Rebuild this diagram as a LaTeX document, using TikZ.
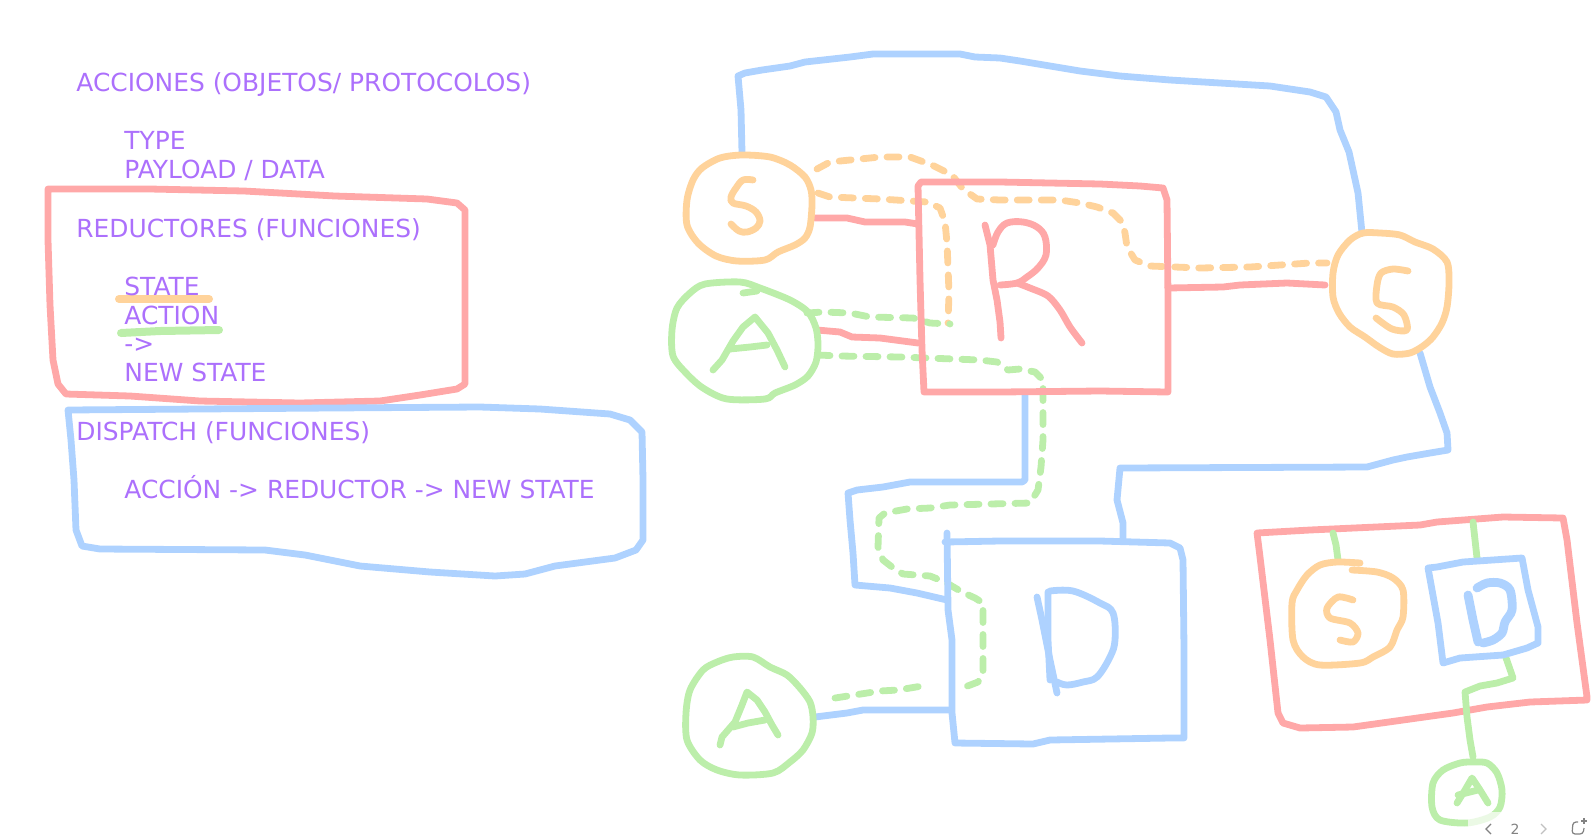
\documentclass[tikz,border=0pt]{standalone}
\usepackage{fontspec}
\setmainfont{DejaVu Sans}
\definecolor{txt}{RGB}{172,112,252}
\definecolor{pred}{RGB}{255,168,168}
\definecolor{pblue}{RGB}{174,210,255}
\definecolor{porange}{RGB}{255,211,155}
\definecolor{pgreen}{RGB}{188,238,170}
\definecolor{navgray}{RGB}{130,130,130}
\tikzset{
  pen/.style={line width=3.4pt, line cap=round, line join=round},
  redpen/.style={pen, draw=pred},
  bluepen/.style={pen, draw=pblue},
  orangepen/.style={pen, draw=porange},
  greenpen/.style={pen, draw=pgreen},
  dashy/.style={dash pattern=on 6pt off 6pt},
  hilite/.style={line width=4pt, line cap=round},
  lbl/.style={anchor=base west, inner sep=0pt, text=txt, font=\fontsize{12.45}{14}\selectfont},
}
\begin{document}
\begin{tikzpicture}[x=0.5pt,y=-0.5pt]
\useasboundingbox (0,0) rectangle (1593,836);

% ---------- left text ----------
\draw[hilite, draw=porange] (119,299) -- (209,299);
\draw[hilite, draw=pgreen] (121,333) -- (160,331) -- (219,330);

\node[lbl] (t1) at (76,91) {ACCIONES (OBJETOS/ PROTOCOLOS)};
\node[lbl] (t2) at (124,149) {TYPE};
\node[lbl] (t3) at (124,178) {PAYLOAD / DATA};
\node[lbl] (t4) at (76,237) {REDUCTORES (FUNCIONES)};
\node[lbl] (t5) at (124,295) {STATE};
\node[lbl] (t6) at (124,324) {ACTION};
\node[lbl] (t7) at (124,352) {->};
\node[lbl] (t8) at (124,381) {NEW STATE};
\node[lbl] (t9) at (76,440) {DISPATCH (FUNCIONES)};
\node[lbl] (t10) at (124,498) {ACCIÓN -> REDUCTOR -> NEW STATE};

% red box around reductores
\draw[redpen] (48,189) -- (150,189) -- (244,191) -- (335,196) -- (427,199) -- (457,203) -- (465,210)
  -- (465,300) -- (465,384) -- (457,389) -- (420,395) -- (380,401) -- (300,403) -- (200,401)
  -- (130,396) -- (66,394) -- (58,384) -- (53,360) -- (50,305) -- (48,240) -- cycle;
% blue box around dispatch
\draw[bluepen] (68,410) -- (200,409) -- (330,408) -- (480,407) -- (540,409) -- (610,414) -- (630,420)
  -- (642,432) -- (643,480) -- (643,540) -- (636,550) -- (615,558) -- (600,560) -- (555,566)
  -- (525,574) -- (495,576) -- (430,572) -- (360,566) -- (305,555) -- (265,550) -- (100,549)
  -- (82,546) -- (76,530) -- (74,480) -- (71,440) -- cycle;

% ---------- connectors ----------
% blue S1 -> S2 over the top
\draw[bluepen] (742,153) -- (741,110) -- (738,76) -- (745,73) -- (762,70) -- (790,66) -- (805,62)
  -- (850,57) -- (873,54) -- (960,54) -- (975,57) -- (1000,58) -- (1020,61) -- (1050,66) -- (1080,71)
  -- (1120,76) -- (1170,80) -- (1270,86) -- (1310,92) -- (1326,97) -- (1336,112) -- (1340,130)
  -- (1349,152) -- (1358,193) -- (1362,233);
% red S1 -> R, A1 -> R, S2 -> R
\draw[redpen] (815,218) -- (847,218) -- (865,222) -- (905,222) -- (918,224);
\draw[redpen] (817,330) -- (840,332) -- (852,337) -- (880,338) -- (918,343);
\draw[redpen] (1325,285) -- (1287,283) -- (1240,285) -- (1223,287) -- (1168,288);
% orange dashed S1 -> R
\draw[orangepen, dashy] (818,193) -- (830,197) -- (880,199) -- (927,202) -- (940,208) -- (945,222)
  -- (947,243) -- (948,267) -- (949,293) -- (948,323);
% orange dashed S1 -> S2 over R
\draw[orangepen, dashy] (817,169) -- (830,162) -- (880,157) -- (910,157) -- (932,165) -- (952,175)
  -- (963,189) -- (977,199) -- (1000,200) -- (1060,200) -- (1080,203) -- (1097,207) -- (1113,213)
  -- (1122,222) -- (1125,233) -- (1127,247) -- (1135,260) -- (1150,266) -- (1200,268) -- (1250,267)
  -- (1280,265) -- (1310,263) -- (1327,263);
% green dashed A1 -> R
\draw[greenpen, dashy] (807,313) -- (823,312) -- (850,313) -- (870,317) -- (913,318) -- (930,323) -- (950,324);
% green dashed A1 -> D
\draw[greenpen, dashy] (818,355) -- (840,356) -- (900,357) -- (980,360) -- (997,362) -- (1008,370)
  -- (1020,369) -- (1035,372) -- (1043,380) -- (1043,440) -- (1041,467) -- (1038,490) -- (1030,503)
  -- (990,504) -- (950,505) -- (930,508) -- (907,509) -- (885,513) -- (879,518) -- (878,547)
  -- (883,560) -- (892,567) -- (903,574) -- (930,576) -- (945,582) -- (962,592) -- (975,598)
  -- (983,603) -- (983,650) -- (983,673) -- (978,682) -- (965,687);
% green dashed A2 -> D
\draw[greenpen, dashy] (835,698) -- (880,691) -- (898,690) -- (922,686);
% blue R -> D
\draw[bluepen] (1025,395) -- (1025,480) -- (1022,482) -- (983,482) -- (910,482) -- (883,487)
  -- (857,490) -- (848,493) -- (850,520) -- (853,553) -- (855,585) -- (890,588) -- (917,593) -- (947,600);
% blue S2 -> D
\draw[bluepen] (1420,353) -- (1430,387) -- (1440,413) -- (1447,433) -- (1448,450) -- (1430,453)
  -- (1407,457) -- (1393,460) -- (1367,467) -- (1120,468) -- (1117,500) -- (1123,523) -- (1123,540);
% blue A2 -> D
\draw[bluepen] (815,717) -- (847,713) -- (863,710) -- (903,710) -- (950,710);

% ---------- S1 ----------
\draw[orangepen] plot[smooth cycle, tension=0.5] coordinates {(742,155) (770,157) (790,165) (805,177)
  (811,190) (812,205) (810,227) (805,238) (795,245) (778,252) (765,260) (737,261) (716,256) (698,243)
  (687,225) (687,200) (693,180) (702,168) (720,158)};
\draw[orangepen] plot[smooth, tension=0.6] coordinates {(753,180) (743,180) (736,188) (731,197) (733,203)
  (746,206) (756,212) (760,221) (756,228) (747,232) (739,231) (731,224)};
% ---------- A1 ----------
\draw[greenpen] plot[smooth cycle, tension=0.5] coordinates {(705,284) (740,282) (760,288) (790,300)
  (808,312) (816,328) (818,345) (816,362) (808,376) (795,385) (775,393) (765,399) (727,399) (703,388)
  (686,373) (673,356) (672,330) (677,308) (690,293)};
\draw[greenpen] (743,293) -- (757,291);
\draw[greenpen] (713,370) -- (722,360) -- (733,341) -- (743,327) -- (755,317) -- (768,333) -- (777,350) -- (785,367);
\draw[greenpen] (730,349) -- (750,347) -- (767,345);
% ---------- R ----------
\draw[redpen] (918,186) -- (920,280) -- (922,350) -- (924,392) -- (1000,392) -- (1100,391) -- (1168,392)
  -- (1168,300) -- (1167,200) -- (1163,188) -- (1140,186) -- (1100,184) -- (1000,182) -- (921,182) -- (918,186);
\draw[redpen] (985,225) -- (990,245) -- (993,280) -- (997,300) -- (1000,322) -- (1001,338);
\draw[redpen] plot[smooth, tension=0.6] coordinates {(993,245) (998,232) (1007,223) (1023,222) (1037,227)
  (1045,237) (1046,255) (1038,268) (1027,277) (1017,283) (1000,285)};
\draw[redpen] plot[smooth, tension=0.5] coordinates {(1017,283) (1030,288) (1048,296) (1060,310) (1070,327) (1082,343)};
% ---------- S2 ----------
\draw[orangepen] plot[smooth cycle, tension=0.5] coordinates {(1363,233) (1380,233) (1400,235) (1415,242)
  (1433,249) (1447,262) (1449,283) (1447,307) (1442,323) (1433,337) (1423,346) (1410,353) (1393,354)
  (1379,347) (1365,337) (1350,327) (1339,313) (1333,297) (1333,273) (1338,255) (1350,240)};
\draw[orangepen] plot[smooth, tension=0.5] coordinates {(1408,271) (1393,269) (1381,273) (1377,285)
  (1377,303) (1393,307) (1404,315) (1407,330) (1392,329) (1376,318)};
% ---------- D ----------
\draw[bluepen] (947,533) -- (948,610) -- (952,640) -- (952,713) -- (955,743) -- (1033,744) -- (1050,740)
  -- (1170,738) -- (1184,738) -- (1184,650) -- (1183,560) -- (1180,548) -- (1170,543) -- (1100,541)
  -- (1000,541) -- (945,542);
\draw[bluepen] (1037,597) -- (1042,620) -- (1050,660) -- (1057,693);
\draw[bluepen] (1048,592) -- (1048,640) -- (1050,680);
\draw[bluepen] plot[smooth, tension=0.6] coordinates {(1050,591) (1073,591) (1100,603) (1113,613) (1115,640)
  (1110,657) (1097,677) (1083,682) (1067,685) (1057,682)};
% ---------- A2 ----------
\draw[greenpen] plot[smooth cycle, tension=0.5] coordinates {(733,657) (753,657) (770,667) (787,675)
  (800,688) (810,702) (813,717) (812,733) (803,750) (790,762) (773,773) (740,775) (717,770) (700,760)
  (687,740) (686,713) (690,690) (703,670) (717,662)};
\draw[greenpen] (720,745) -- (722,737) -- (735,722) -- (742,705) -- (747,692) -- (757,700) -- (765,712) -- (772,725) -- (778,735);
\draw[greenpen] (733,727) -- (748,723) -- (765,720);

% ---------- right group ----------
\draw[redpen] (1257,533) -- (1310,530) -- (1420,525) -- (1437,522) -- (1503,517) -- (1563,518) -- (1567,540)
  -- (1577,623) -- (1587,697) -- (1587,700) -- (1530,702) -- (1487,707) -- (1453,713) -- (1403,720)
  -- (1353,727) -- (1300,728) -- (1283,723) -- (1278,713) -- (1270,640) -- (1260,557) -- cycle;
\draw[greenpen] (1333,533) -- (1336,545) -- (1338,560);
\draw[greenpen] (1473,522) -- (1475,540) -- (1477,558);
\draw[greenpen] (1505,655) -- (1513,678) -- (1497,683) -- (1480,686) -- (1465,692) -- (1467,717) -- (1470,740) -- (1473,757);
\draw[orangepen] plot[smooth, tension=0.5] coordinates {(1352,570) (1377,572) (1393,578) (1403,590) (1403,617)
  (1397,630) (1390,647) (1373,657) (1360,663) (1320,665) (1303,657) (1293,640) (1292,603) (1297,590)
  (1307,575) (1320,565) (1337,562) (1360,563)};
\draw[orangepen] plot[smooth, tension=0.5] coordinates {(1353,600) (1338,597) (1327,608) (1330,618)
  (1350,623) (1358,633) (1353,642) (1340,640)};
\draw[bluepen] (1428,568) -- (1437,567) -- (1463,562) -- (1522,558) -- (1528,590) -- (1538,627) -- (1538,643)
  -- (1527,648) -- (1503,655) -- (1460,658) -- (1443,663) -- (1438,623) -- (1432,590) -- cycle;
\draw[bluepen, line width=4.4pt] (1468,595) -- (1473,620) -- (1478,642);
\draw[bluepen, line width=4.4pt] plot[smooth, tension=0.5] coordinates {(1477,588) (1487,583) (1500,583)
  (1510,590) (1512,610) (1505,622) (1502,633) (1493,640) (1483,643)};
\draw[greenpen] plot[smooth cycle, tension=0.5] coordinates {(1473,762) (1487,763) (1497,773) (1502,790)
  (1500,807) (1490,817) (1467,823) (1440,820) (1432,807) (1433,783) (1443,770) (1460,763)};
\draw[greenpen] (1457,803) -- (1465,790) -- (1472,778) -- (1480,790) -- (1488,803);
\draw[greenpen] (1458,795) -- (1478,790);

% ---------- page navigation ----------
\fill[white, opacity=0.7] (1468,812) rectangle (1593,836);
\draw[navgray, line width=0.6pt] (1491,824) -- (1486,829) -- (1491,834);
\node[inner sep=0pt, text=navgray, font=\fontsize{7}{8}\selectfont] (pg) at (1515,829) {2};
\draw[navgray!50, line width=0.6pt] (1541,824) -- (1546,829) -- (1541,834);
\draw[navgray, line width=0.6pt, rounded corners=1.5pt] (1578,822) -- (1573,822) -- (1572,834) -- (1583,834) -- (1584,828);
\draw[navgray, line width=0.6pt] (1581,821) -- (1587,821) (1584,818) -- (1584,824);
\end{tikzpicture}
\end{document}
